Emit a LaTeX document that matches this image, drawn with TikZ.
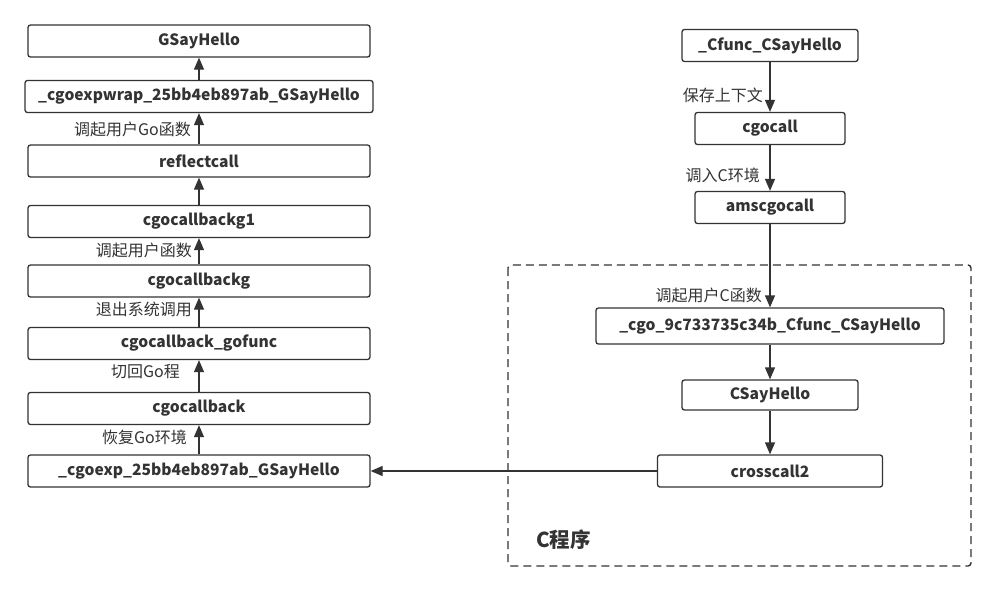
\documentclass[tikz,border=0pt]{standalone}
\usepackage{fontspec}
\setmainfont{Noto Sans CJK SC}
\usetikzlibrary{positioning,arrows.meta}
\definecolor{ink}{HTML}{333333}
\tikzset{
  fn/.style={draw=ink, line width=1.3pt, rounded corners=2.5pt, minimum height=32pt,
    inner sep=0pt, text=ink, font=\bfseries\fontsize{15.6}{18}\selectfont},
  lbl/.style={anchor=east, inner sep=0pt, text=ink, font=\fontsize{16}{18}\selectfont},
  call/.style={draw=ink, line width=1.3pt, -{Triangle[length=12pt,width=10pt]}},
}
\begin{document}
\begin{tikzpicture}[x=1pt,y=-1pt]
  \useasboundingbox (0,0) rectangle (995,606);
  % Go side (left column), bottom to top
  \foreach \name/\y/\w/\txt in {gsay/41/342/GSayHello,
      wrap/96.5/348/\_cgoexpwrap\_25bb4eb897ab\_GSayHello,
      refl/161/342/reflectcall,
      cbgone/221.5/342/cgocallbackg1,
      cbg/281/342/cgocallbackg,
      gofunc/343.5/342/cgocallback\_gofunc,
      cgocb/408.5/342/cgocallback,
      cgoexp/471/342/\_cgoexp\_25bb4eb897ab\_GSayHello}
    {\node[fn, minimum width=\w pt] (\name) at (199,\y) {\txt};}
  \foreach \a/\b in {cgoexp/cgocb, cgocb/gofunc, gofunc/cbg, cbg/cbgone,
      cbgone/refl, refl/wrap, wrap/gsay}
    {\draw[call] (\a) -- (\b);}
  \node[lbl] (lgofn) at (191,129) {调起用户Go函数};
  \node[lbl] (lufn) at (192,250) {调起用户函数};
  \node[lbl] (lsys) at (192,309) {退出系统调用};
  \node[lbl] (lgo) at (180,372) {切回Go程};
  \node[lbl] (lenv) at (187,437) {恢复Go环境};
  % C side (right column)
  \node[fn, minimum width=176pt] (cfunc) at (770,45.5) {\_Cfunc\_CSayHello};
  \node[fn, minimum width=150pt] (cgocall) at (770,128.5) {cgocall};
  \node[fn, minimum width=150pt] (asm) at (770,207.5) {amscgocall};
  \node[fn, minimum width=348pt, minimum height=36pt] (cgofn) at (770,326) {\_cgo\_9c733735c34b\_Cfunc\_CSayHello};
  \node[fn, minimum width=176pt, minimum height=30pt] (csay) at (770,395) {CSayHello};
  \node[fn, minimum width=225pt] (cross) at (770,471) {crosscall2};
  \draw[call] (cfunc) -- (cgocall);
  \draw[call] (cgocall) -- (asm);
  \draw[call] (asm) -- (cgofn);
  \draw[call] (cgofn) -- (csay);
  \draw[call] (csay) -- (cross);
  \draw[call] (cross) -- (cgoexp);
  \node[lbl] (lctx) at (763,95) {保存上下文};
  \node[lbl] (lcenv) at (760,175) {调入C环境};
  \node[lbl] (lcfn) at (762,295) {调起用户C函数};
  % C program frame
  \draw[ink, line width=1.4pt, dash pattern=on 8pt off 5pt, rounded corners=3pt]
    (508,265) rectangle (971,566);
  \node[anchor=west, inner sep=0pt, text=ink, font=\bfseries\fontsize{20.5}{22}\selectfont]
    (cprog) at (536,540) {C程序};
\end{tikzpicture}
\end{document}
